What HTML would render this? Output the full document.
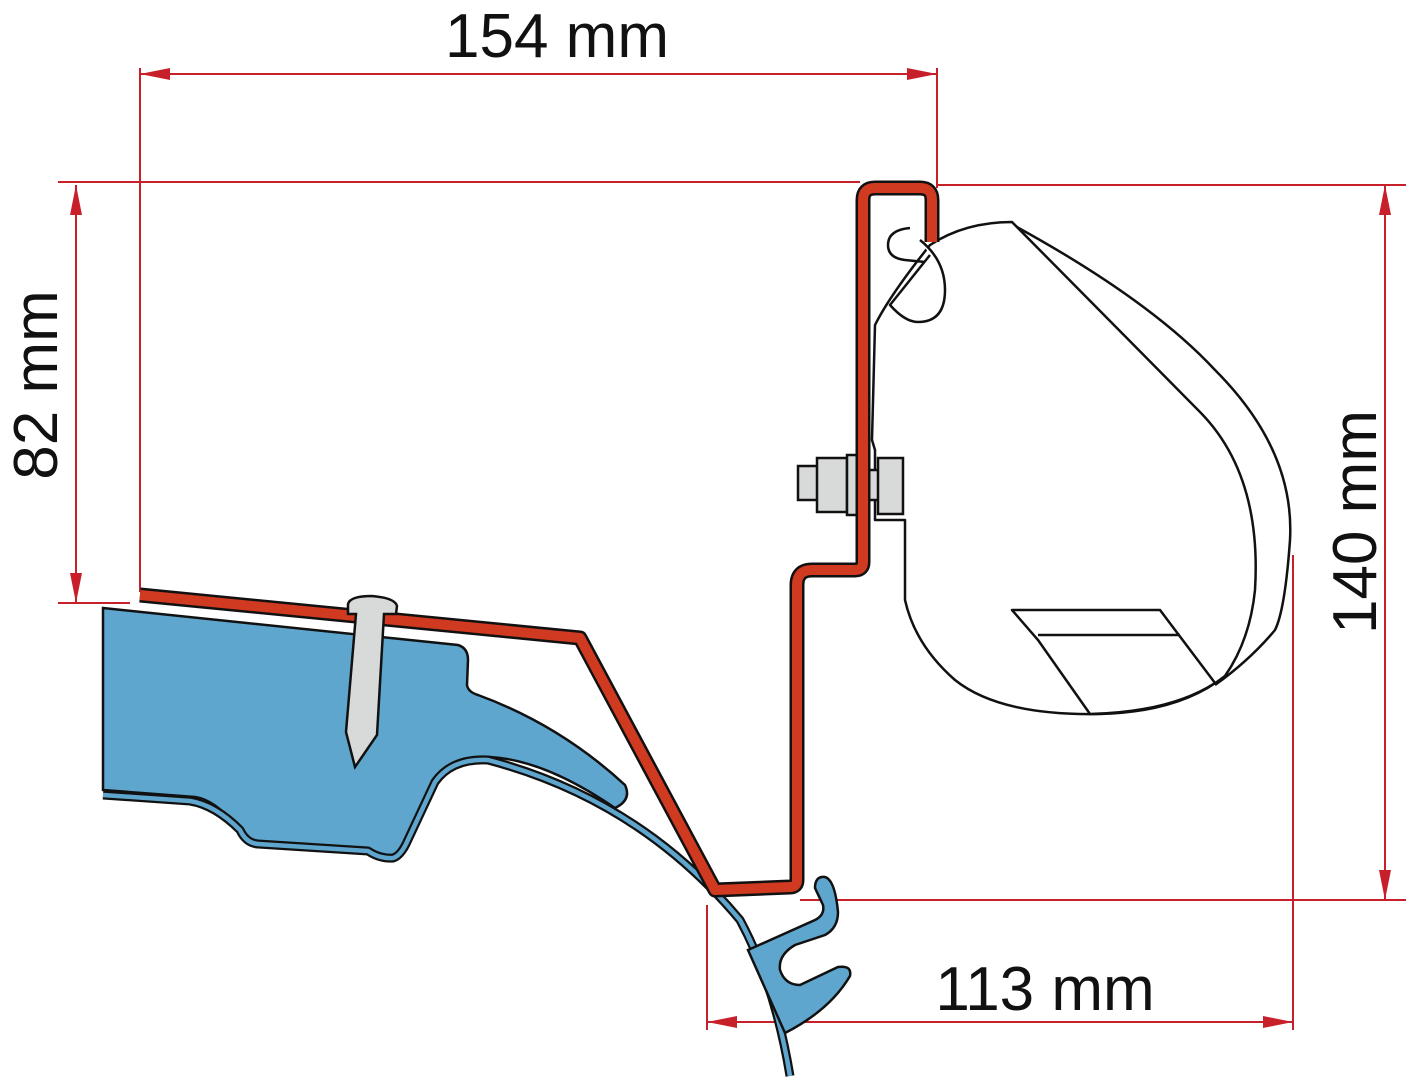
<!DOCTYPE html>
<html><head><style>html,body{margin:0;padding:0;background:#fff}svg{display:block}</style></head>
<body>
<svg width="1406" height="1080" viewBox="0 0 1406 1080" xmlns="http://www.w3.org/2000/svg">
<defs>
<marker id="a" viewBox="0 0 30 12" refX="30" refY="6" markerWidth="30" markerHeight="12" markerUnits="userSpaceOnUse" orient="auto-start-reverse"><path d="M30,6 L0,0 L0,12 Z" fill="#c8202a"/></marker>
</defs>
<g stroke="#c8202a" stroke-width="2" fill="none">
<line x1="140" y1="68" x2="140" y2="592"/>
<line x1="937" y1="68" x2="937" y2="188"/>
<line x1="58" y1="182" x2="860" y2="182"/>
<line x1="937" y1="185" x2="1406" y2="185"/>
<line x1="58" y1="603" x2="130" y2="603"/>
<line x1="800" y1="900" x2="1406" y2="900"/>
<line x1="1293" y1="555" x2="1293" y2="1030"/>
<line x1="707" y1="905" x2="707" y2="1030"/>
<line x1="140" y1="74" x2="937" y2="74" marker-start="url(#a)" marker-end="url(#a)"/>
<line x1="76" y1="185" x2="76" y2="603" marker-start="url(#a)" marker-end="url(#a)"/>
<line x1="1385" y1="185" x2="1385" y2="900" marker-start="url(#a)" marker-end="url(#a)"/>
<line x1="707" y1="1022" x2="1293" y2="1022" marker-start="url(#a)" marker-end="url(#a)"/>
</g>
<g font-family="Liberation Sans, sans-serif" font-size="62" fill="#111">
<text x="557" y="57" text-anchor="middle">154 mm</text>
<text x="1045" y="1010" text-anchor="middle">113 mm</text>
<text transform="translate(57,385) rotate(-90)" text-anchor="middle">82 mm</text>
<text transform="translate(1376,522) rotate(-90)" text-anchor="middle">140 mm</text>
</g>
<g stroke="#111" stroke-width="2.5" fill="#fff" stroke-linejoin="round">
<path d="M1015,226 Q1150,300 1215,370 Q1295,450 1290,540 Q1285,610 1275,630 Q1250,660 1215,685"/>
<path d="M875,325 Q890,295 930,245 Q965,222 1012,222 L1200,412 Q1262,475 1255,590 Q1250,640 1225,676 Q1180,712 1100,714 Q1000,716 955,680 Q915,645 905,600 L905,520 L875,520 L875,450 L872,440 Z"/>
<path d="M1012,610 L1160,610 L1215,683 Q1170,712 1090,714 L1038,640 Z"/>
<path d="M1038,635 L1180,635"/>
<path d="M920,240 Q945,260 945,290 Q945,322 918,322 Q905,322 890,305 L930,255"/>
<path d="M910,228 Q888,230 888,245 Q888,258 905,260 L925,262" fill="none"/>
</g>
<g stroke="#111" stroke-width="2.5" fill="#d8d9d9">
<rect x="798" y="466" width="20" height="34"/>
<rect x="817" y="458" width="30" height="54"/>
<rect x="847" y="455" width="10" height="60"/>
<rect x="857" y="470" width="23" height="30"/>
<rect x="878" y="458" width="25" height="56"/>
</g>
<path d="M103,608 L458,645 Q468,648 468,660 L467,685 Q468,692 478,695 Q560,725 625,785 Q632,800 615,808 Q545,760 490,757 Q455,755 440,775 L405,845 Q398,858 385,855 L250,843 Q240,838 235,825 Q215,800 195,797 L103,790 Z" fill="#5fa6cf" stroke="#111" stroke-width="2.5"/>
<path d="M103,795 L190,801 Q215,805 240,830 Q246,843 258,844 L368,851 Q380,859 393,858 Q400,856 406,844 L435,782 Q452,758 488,760 Q640,800 740,920 Q775,985 790,1076" fill="none" stroke="#111" stroke-width="9" stroke-linejoin="round"/>
<path d="M103,795 L190,801 Q215,805 240,830 Q246,843 258,844 L368,851 Q380,859 393,858 Q400,856 406,844 L435,782 Q452,758 488,760 Q640,800 740,920 Q775,985 790,1076" fill="none" stroke="#5fa6cf" stroke-width="4.5" stroke-linejoin="round"/>
<path d="M748,950 L815,920 Q825,915 823,905 L815,888 Q815,876 825,877 Q835,880 838,912 Q838,928 825,935 L795,945 Q778,955 780,970 Q785,985 800,985 L838,967 Q852,965 850,976 Q830,1010 785,1033 Z" fill="#5fa6cf" stroke="#111" stroke-width="2.5"/>
<path d="M140,595 L580,638 L715,890 L790,887 Q797,887 797,880 L797,585 Q797,570 812,570 L855,570 Q863,570 863,562 L863,200 Q863,188 875,188 L920,188 Q932,188 932,200 L932,242" fill="none" stroke="#111" stroke-width="15" stroke-linejoin="round"/>
<path d="M140,595 L580,638 L715,890 L790,887 Q797,887 797,880 L797,585 Q797,570 812,570 L855,570 Q863,570 863,562 L863,200 Q863,188 875,188 L920,188 Q932,188 932,200 L932,242" fill="none" stroke="#d03a20" stroke-width="10" stroke-linejoin="round"/>
<path d="M348,604 Q350,596 372,596 Q395,598 397,606 L396,614 L384,614 L377,735 L355,767 L346,732 L356,614 L348,614 Z" fill="#d8d9d9" stroke="#111" stroke-width="2.5"/>
</svg>
</body></html>
